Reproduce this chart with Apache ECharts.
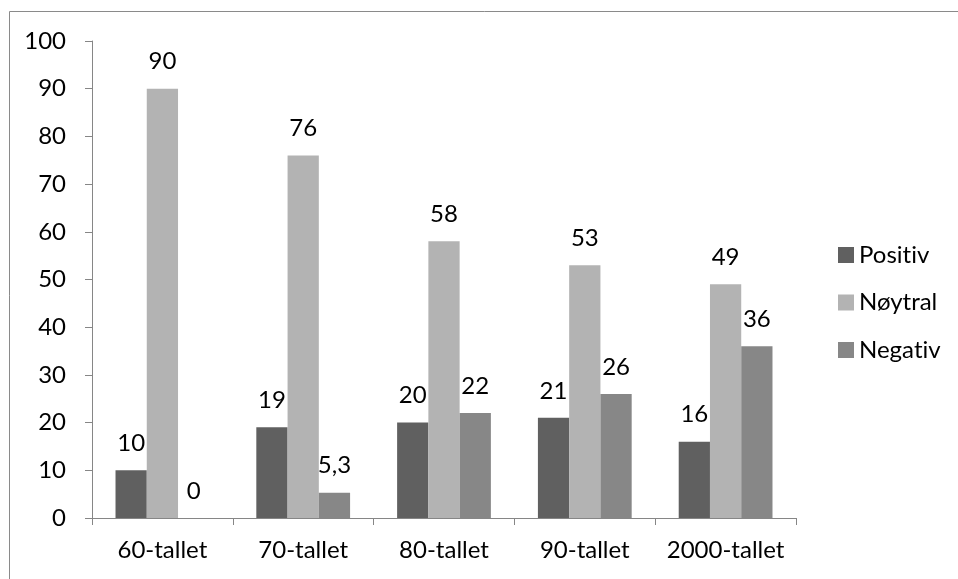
<!DOCTYPE html>
<html><head><meta charset="utf-8">
<script src="https://cdn.jsdelivr.net/npm/echarts@6/dist/echarts.min.js"></script>
<style>html,body{margin:0;padding:0;background:#fff}#c{width:958px;height:579px}</style>
</head><body><div id="c"></div>
<script>
const categories = ['60-tallet', '70-tallet', '80-tallet', '90-tallet', '2000-tallet'];
const positiv = [10, 19, 20, 21, 16];
const noytral = [90, 76, 58, 53, 49];
const negativ = [0, 5.3, 22, 26, 36];
const seriesNames = ['Positiv', 'Nøytral', 'Negativ'];
const yTicks = [0, 10, 20, 30, 40, 50, 60, 70, 80, 90, 100];

const FONT = 'Lato';
const FS = 24;
const noLig = s => s.replace(/ti/g, 't\u200Ci');
const chart = echarts.init(document.getElementById('c'));
const labelCfg = {
  show: true, position: 'top', distance: 15,
  color: '#000', fontFamily: FONT, fontSize: FS,
  formatter: p => String(p.value).replace('.', ',')
};
chart.setOption({
  animation: false,
  textStyle: { fontFamily: FONT },
  graphic: [{
    type: 'rect', shape: { x: 9.5, y: 11.5, width: 1200, height: 1200 },
    style: { fill: 'none', stroke: '#8a8a8a', lineWidth: 1 }, silent: true
  }],
  grid: { left: 92, right: 162, top: 41, bottom: 61, containLabel: false },
  legend: {
    orient: 'vertical', left: 833, top: 238,
    itemWidth: 16, itemHeight: 16, itemGap: 23.5,
    icon: 'rect',
    formatter: n => noLig(n),
    textStyle: { fontFamily: FONT, fontSize: FS, color: '#000', lineHeight: 24 },
    data: seriesNames
  },
  xAxis: {
    type: 'category', data: categories,
    axisLine: { lineStyle: { color: '#868686', width: 1 } },
    axisTick: { show: true, length: 7, interval: 0, alignWithLabel: false, lineStyle: { color: '#868686' } },
    axisLabel: { color: '#000', fontFamily: FONT, fontSize: FS, margin: 20, interval: 0, hideOverlap: false }
  },
  yAxis: {
    type: 'value', min: 0, max: 100, interval: 10,
    axisLine: { show: true, lineStyle: { color: '#868686', width: 1 } },
    axisTick: { show: true, length: 7, lineStyle: { color: '#868686' } },
    splitLine: { show: false },
    axisLabel: { color: '#000', fontFamily: FONT, fontSize: FS, margin: 26,
      formatter: v => yTicks.includes(v) ? String(v) : '' }
  },
  series: [
    { name: seriesNames[0], type: 'bar', data: positiv, itemStyle: { color: '#606060' },
      barGap: '0%', barCategoryGap: '33.4%', label: labelCfg },
    { name: seriesNames[1], type: 'bar', data: noytral, itemStyle: { color: '#b3b3b3' },
      barGap: '0%', barCategoryGap: '33.4%', label: labelCfg },
    { name: seriesNames[2], type: 'bar', data: negativ, itemStyle: { color: '#878787' },
      barGap: '0%', barCategoryGap: '33.4%', label: labelCfg }
  ]
});
</script></body></html>
